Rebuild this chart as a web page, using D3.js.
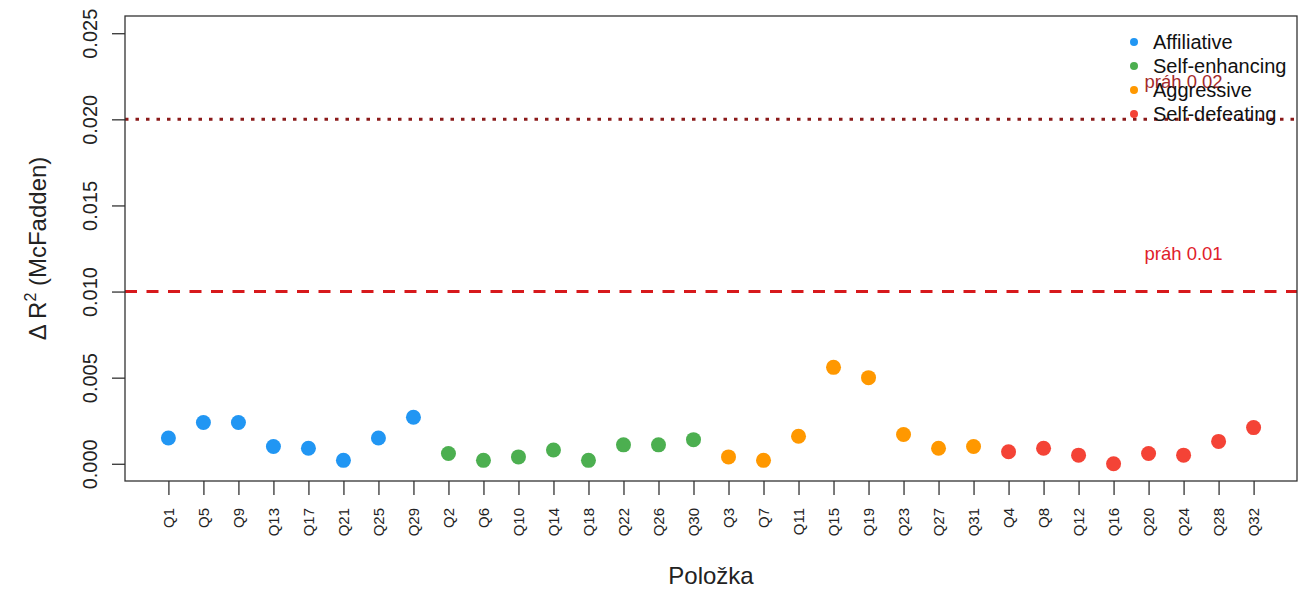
<!DOCTYPE html>
<html>
<head>
<meta charset="utf-8">
<script src="https://cdn.jsdelivr.net/npm/d3@7"></script>
<style>
  body { margin: 0; background: #fff; }
  text { font-family: "Liberation Sans", Arial, sans-serif; }
</style>
</head>
<body>
<div class="content"></div>
<script>
// items in plotting order, grouped by humor style
const items = ["Q1","Q5","Q9","Q13","Q17","Q21","Q25","Q29",
               "Q2","Q6","Q10","Q14","Q18","Q22","Q26","Q30",
               "Q3","Q7","Q11","Q15","Q19","Q23","Q27","Q31",
               "Q4","Q8","Q12","Q16","Q20","Q24","Q28","Q32"];
const deltaR2 = [0.0015,0.0024,0.0024,0.0010,0.0009,0.0002,0.0015,0.0027,
                 0.0006,0.0002,0.0004,0.0008,0.0002,0.0011,0.0011,0.0014,
                 0.0004,0.0002,0.0016,0.0056,0.0050,0.0017,0.0009,0.0010,
                 0.0007,0.0009,0.0005,0.0000,0.0006,0.0005,0.0013,0.0021];
const groups = ["Affiliative","Self-enhancing","Aggressive","Self-defeating"];
const groupColors = ["#2196F3","#4CAF50","#FF9800","#F44336"];
const yTicks = [0, 0.005, 0.010, 0.015, 0.020, 0.025];
const thresholds = [0.01, 0.02];

const W = 1309, H = 589;
const plot = { left: 125, right: 1297, top: 16, bottom: 481 };

const svg = d3.select('.content')
    .append('svg')
    .attr('width', W)
    .attr('height', H);

// R-style 4% axis extension
const xScale = d3.scaleLinear()
    .domain([1 - 31*0.04, 32 + 31*0.04])
    .range([plot.left, plot.right]);
const yScale = d3.scaleLinear()
    .domain([-0.025*0.04, 0.025*1.04])
    .range([plot.bottom, plot.top]);

// threshold lines
svg.append("line")
    .attr("x1", plot.left).attr("x2", plot.right)
    .attr("y1", yScale(0.02)).attr("y2", yScale(0.02))
    .attr("stroke", "#8B1A1A").attr("stroke-width", 3)
    .attr("stroke-dasharray", "3.5,7");
svg.append("line")
    .attr("x1", plot.left).attr("x2", plot.right)
    .attr("y1", yScale(0.01)).attr("y2", yScale(0.01))
    .attr("stroke", "#D7191C").attr("stroke-width", 3)
    .attr("stroke-dasharray", "12,9.5");

svg.append("text")
    .attr("x", xScale(30)).attr("y", yScale(0.0221))
    .attr("text-anchor", "middle").attr("dominant-baseline", "middle")
    .attr("font-size", 18.5).attr("fill", "#A52A2A")
    .text("práh 0.02");
svg.append("text")
    .attr("x", xScale(30)).attr("y", yScale(0.0121))
    .attr("text-anchor", "middle").attr("dominant-baseline", "middle")
    .attr("font-size", 18.5).attr("fill", "#E0202A")
    .text("práh 0.01");

// points
svg.selectAll(".pt")
    .data(items)
    .enter().append("circle")
    .attr("class", "pt")
    .attr("cx", (d, i) => xScale(i + 1))
    .attr("cy", (d, i) => yScale(deltaR2[i]))
    .attr("r", 7.5)
    .attr("fill", (d, i) => groupColors[Math.floor(i / 8)]);

// frame
svg.append("rect")
    .attr("x", plot.left).attr("y", plot.top)
    .attr("width", plot.right - plot.left).attr("height", plot.bottom - plot.top)
    .attr("fill", "none").attr("stroke", "#333").attr("stroke-width", 1.3);

// x axis
const xAxis = d3.axisBottom(xScale)
    .tickValues(d3.range(1, 33))
    .tickSize(14)
    .tickFormat(d => items[d - 1]);
svg.append("g")
    .attr("transform", `translate(0, ${plot.bottom})`)
    .call(xAxis)
    .call(g => g.select('.domain').remove())
    .call(g => g.selectAll('line').attr("stroke", "#333").attr("stroke-width", 1.3))
    .call(g => g.selectAll('text')
        .attr("font-size", 15).attr("fill", "#222")
        .attr("transform", "rotate(-90)")
        .attr("text-anchor", "end")
        .attr("x", -27).attr("y", 0).attr("dy", "0.35em"));

// y axis
const yAxis = d3.axisLeft(yScale)
    .tickValues(yTicks)
    .tickSize(13)
    .tickFormat(d3.format(".3f"));
svg.append("g")
    .attr("transform", `translate(${plot.left}, 0)`)
    .call(yAxis)
    .call(g => g.select('.domain').remove())
    .call(g => g.selectAll('line').attr("stroke", "#333").attr("stroke-width", 1.3))
    .call(g => g.selectAll('text')
        .attr("font-size", 20).attr("fill", "#222")
        .attr("transform", "rotate(-90)")
        .attr("text-anchor", "middle")
        .attr("x", 0).attr("y", -28).attr("dy", 0));

// axis titles
svg.append("text")
    .attr("x", (plot.left + plot.right) / 2).attr("y", 584)
    .attr("text-anchor", "middle")
    .attr("font-size", 24).attr("fill", "#222")
    .text("Položka");

const yTitle = svg.append("text")
    .attr("transform", `translate(46, ${(plot.top + plot.bottom) / 2}) rotate(-90)`)
    .attr("text-anchor", "middle")
    .attr("font-size", 24).attr("fill", "#222");
yTitle.append("tspan").text("Δ R");
yTitle.append("tspan").attr("font-size", 16).attr("dy", -10).text("2");
yTitle.append("tspan").attr("dy", 10).text(" (McFadden)");

// legend
const legend = svg.selectAll(".leg")
    .data(groups)
    .enter().append("g")
    .attr("class", "leg")
    .attr("transform", (d, i) => `translate(1134, ${42 + i * 24})`);
legend.append("circle")
    .attr("r", 4)
    .attr("fill", (d, i) => groupColors[i]);
legend.append("text")
    .attr("x", 19).attr("dy", "0.35em")
    .attr("font-size", 20).attr("fill", "#111")
    .text(d => d);
</script>
</body>
</html>
